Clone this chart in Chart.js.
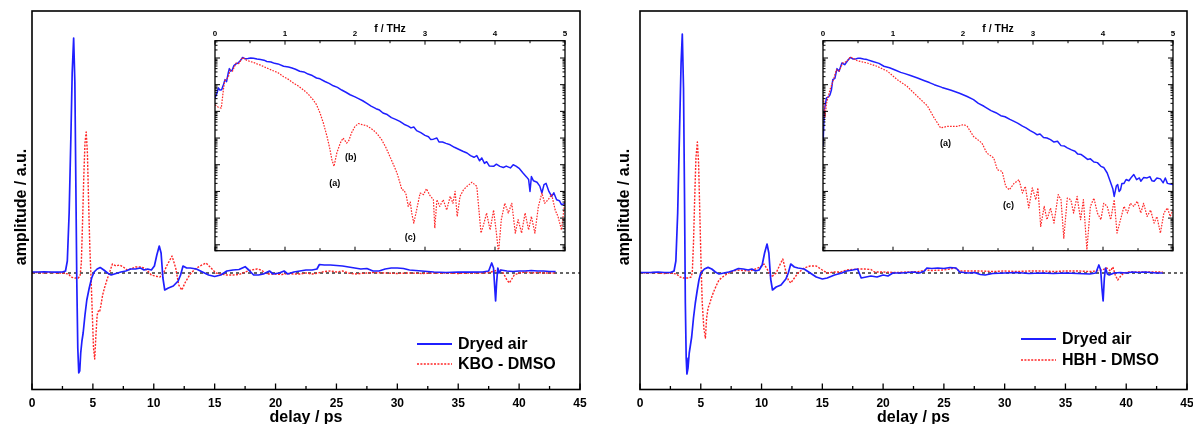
<!DOCTYPE html>
<html><head><meta charset="utf-8">
<script src="https://cdn.jsdelivr.net/npm/chart.js@4.4.1/dist/chart.umd.min.js"></script>
<style>
html,body{margin:0;padding:0;background:#fff;overflow:hidden;width:1193px;height:424px;}
#wrap{position:relative;width:1193px;height:424px;overflow:hidden;background:#fff;}
canvas{position:absolute;}
.leg{position:absolute;display:flex;align-items:center;height:20px;font:bold 16px 'Liberation Sans',Arial,Helvetica,sans-serif;color:#000;white-space:nowrap;}
.leg svg{margin-right:6px;}
</style></head><body>
<div id="wrap">
<canvas id="mainL" width="600" height="440" style="left:0;top:0"></canvas>
<canvas id="mainR" width="613" height="440" style="left:600px;top:0"></canvas>
<canvas id="insL" width="370" height="250" style="left:205px;top:10px"></canvas>
<canvas id="insR" width="370" height="250" style="left:813px;top:10px"></canvas>
</div>
<script>
// ---------- time-domain data (delay in ps, amplitude in a.u.) ----------
const LB_T = [0,0.5,1,1.5,2,2.5,2.75,2.9,3.05,3.2,3.3,3.42,3.52,3.6,3.68,3.76,3.84,3.92,4.0,4.1,4.2,4.35,4.5,4.7,4.9,5.1,5.35,5.6,5.9,6.2,6.5,6.9,7.3,7.7,8.1,8.5,8.9,9.2,9.5,9.8,10.05,10.25,10.45,10.6,10.75,10.9,11.2,11.6,12.0,12.2,12.4,12.7,13.0,13.5,14.0,14.5,15.0,15.5,16.0,16.5,17.0,17.5,17.8,18.2,18.6,19.0,19.5,19.8,20.3,20.7,21.0,21.5,22.0,22.5,23.0,23.4,23.6,24.0,24.5,25.0,25.5,26.0,26.5,27.0,27.5,28.0,28.5,29.0,29.5,30.0,30.5,31.0,31.5,32.0,33.0,34.0,35.0,36.0,37.0,37.5,37.75,37.9,38.0,38.07,38.15,38.25,38.35,38.5,39.0,39.5,40.0,40.5,41.0,41.5,42.0,42.5,43.0];
const LB_A = [0.01,0.01,0.012,0.01,0.008,0.01,0.02,0.12,0.6,1.4,2.0,2.35,1.9,0.9,-0.1,-0.75,-1.0,-0.98,-0.8,-0.68,-0.6,-0.42,-0.27,-0.15,-0.05,0.01,0.04,0.055,0.03,0.0,-0.02,-0.005,0.01,0.02,0.04,0.04,0.05,0.03,0.04,0.03,0.07,0.18,0.27,0.2,-0.05,-0.17,-0.15,-0.13,-0.08,-0.02,0.07,0.05,0.05,0.04,0.01,-0.02,-0.035,-0.02,0.02,0.03,0.035,0.063,0.03,-0.02,-0.02,-0.01,0.02,-0.01,0.0,0.02,-0.01,0.01,0.02,0.03,0.03,0.04,0.085,0.08,0.08,0.075,0.07,0.06,0.05,0.04,0.045,0.02,0.02,0.04,0.05,0.05,0.045,0.03,0.025,0.02,0.01,0.005,0.01,0.008,0.01,0.02,0.1,0.05,-0.15,-0.28,-0.1,0.05,0.0,0.03,0.02,0.015,0.02,0.02,0.025,0.02,0.02,0.015,0.015];

const LR_T = [0,0.5,1,1.5,2,2.5,3.0,3.2,3.5,3.8,3.95,4.05,4.15,4.25,4.35,4.45,4.55,4.65,4.75,4.85,4.95,5.05,5.15,5.25,5.35,5.45,5.55,5.65,5.8,5.95,6.15,6.35,6.6,6.9,7.2,7.5,7.8,8.1,8.5,8.9,9.2,9.5,9.8,10.1,10.5,10.8,11.1,11.5,11.8,12.05,12.3,12.6,13.0,13.4,13.8,14.3,14.7,15.1,15.5,16.0,16.5,17.0,17.5,18.0,18.5,18.8,19.3,19.8,20.5,21,21.5,22,22.5,23,23.5,24,24.5,25,25.5,26,26.5,27,27.5,28,29,30,31,32,33,34,35,36,37,37.5,38.0,38.4,38.7,39.0,39.2,39.4,39.6,40.0,40.5,41.0,41.5,42.0,42.5,43.0];
const LR_A = [0.003,0.005,0.0,0.005,0.0,0.0,-0.01,-0.04,-0.05,-0.05,-0.03,0.1,0.5,0.95,1.3,1.41,1.2,0.7,0.25,-0.05,-0.4,-0.75,-0.86,-0.62,-0.42,-0.38,-0.39,-0.33,-0.22,-0.15,-0.07,0.0,0.09,0.07,0.08,0.06,0.03,0.04,0.06,0.06,0.05,0.02,-0.02,-0.03,-0.04,0.0,0.08,0.17,0.05,-0.12,-0.17,-0.09,-0.01,0.04,0.07,0.1,0.05,0.0,-0.01,-0.02,-0.02,-0.015,0.01,0.03,0.04,0.03,-0.01,-0.01,-0.015,-0.005,-0.01,-0.01,0.0,-0.01,0.0,0.015,0.02,0.01,0.02,0.0,-0.01,-0.005,0.0,0.005,0.0,-0.005,0.0,-0.005,0.0,0.0,-0.005,0.0,0.0,0.005,0.02,0.04,0.0,-0.07,-0.1,-0.06,-0.02,0.0,0.01,0.0,0.005,0.0,0.0,0.0];

const RB_T = [0,0.5,1,1.5,2,2.5,2.8,2.95,3.1,3.25,3.38,3.48,3.58,3.66,3.73,3.8,3.86,3.95,4.05,4.15,4.25,4.4,4.55,4.7,4.85,5.0,5.3,5.6,5.9,6.2,6.5,6.9,7.3,7.7,8.1,8.5,8.9,9.2,9.5,9.8,10.05,10.25,10.45,10.6,10.75,10.9,11.2,11.6,12.0,12.2,12.4,12.7,13.0,13.5,14.0,14.5,15.0,15.4,16.0,16.6,17.0,17.5,17.9,18.2,18.6,19.0,19.5,20.0,20.4,20.8,21.5,22.0,22.5,23.0,23.4,23.6,24,24.5,25,25.5,26,26.3,27,27.5,28.0,28.4,29,30,31,32,33,34,35,36,37,37.5,37.75,37.9,38.0,38.1,38.2,38.3,38.45,38.6,39,39.5,40,40.5,41,41.5,42,42.5,43];
const RB_A = [0.005,0.005,0.006,0.01,0.005,0.005,0.02,0.12,0.6,1.4,2.1,2.39,1.85,0.8,-0.3,-0.85,-1.01,-0.95,-0.8,-0.72,-0.64,-0.45,-0.3,-0.18,-0.07,0.0,0.04,0.056,0.04,0.01,-0.01,0.0,0.01,0.025,0.045,0.04,0.03,0.04,0.02,0.03,0.08,0.2,0.29,0.2,-0.06,-0.17,-0.14,-0.12,-0.06,0.0,0.09,0.06,0.05,0.04,0.0,-0.04,-0.06,-0.05,-0.02,0.0,0.02,0.03,0.04,-0.05,-0.04,-0.03,-0.04,-0.02,-0.03,0.0,0.0,0.005,0.01,0.0,0.02,0.05,0.045,0.05,0.045,0.055,0.05,0.01,0.0,0.005,-0.015,-0.02,-0.005,0.0,0.005,-0.005,0.0,-0.005,0.0,-0.005,-0.01,0.0,0.08,0.03,-0.15,-0.28,-0.05,0.05,-0.01,-0.02,0.0,0.005,0.0,0.01,0.005,0.01,0.005,0.0,0.0];

const RR_T = [0,0.5,1,1.5,2,2.5,3.0,3.3,3.6,4.0,4.2,4.3,4.4,4.5,4.6,4.72,4.82,4.92,5.02,5.12,5.25,5.38,5.48,5.6,5.75,5.9,6.05,6.3,6.5,6.9,7.3,7.7,8.0,8.5,9.0,9.5,9.9,10.2,10.5,10.8,11.2,11.5,11.75,11.95,12.2,12.4,12.7,13.0,13.5,14.0,14.5,15.0,15.4,16.0,16.5,17.0,17.5,18.0,18.5,19.0,19.3,20,21,22,23,23.5,24,25,25.5,25.9,26.3,27,28,29,30,31,32,33,34,35,36,37,37.5,38.0,38.4,38.7,38.9,39.1,39.3,39.55,39.8,40.2,41,42,43];
const RR_A = [0.005,0.0,0.005,0.0,-0.005,0.0,-0.01,-0.04,-0.05,-0.05,-0.04,0.0,0.3,0.75,1.15,1.31,1.1,0.6,0.1,-0.3,-0.55,-0.65,-0.45,-0.35,-0.3,-0.24,-0.19,-0.12,-0.07,-0.03,0.0,0.02,0.03,0.025,0.02,0.04,0.06,0.09,0.03,-0.04,0.0,0.08,0.14,0.04,-0.07,-0.1,-0.05,0.0,0.05,0.07,0.07,0.03,0.0,0.01,0.01,0.03,0.035,0.04,0.04,0.035,0.01,0.01,0.005,0.01,0.015,0.03,0.025,0.03,0.04,0.05,0.02,0.02,0.02,0.015,0.02,0.015,0.02,0.02,0.015,0.02,0.02,0.015,0.02,0.03,0.05,0.02,0.06,-0.02,-0.07,-0.03,0.0,0.01,0.01,0.01,0.01];

const ZERO_T = [0, 45];
const ZERO_A = [0, 0];

// ---------- spectra (f in THz, normalized amplitude) ----------
const LI_BLUE_F = [0,0.03,0.048,0.07,0.095,0.12,0.143,0.165,0.19,0.205,0.225,0.245,0.27,0.3,0.33,0.36,0.395,0.43,0.47,0.51,0.55,0.6,0.65,0.7,0.74,0.8,0.85,0.9,0.98,1.05,1.1,1.15,1.21,1.27,1.33,1.39,1.45,1.5,1.57,1.63,1.69,1.75,1.81,1.87,1.93,2.0,2.05,2.11,2.17,2.23,2.3,2.35,2.4,2.46,2.52,2.58,2.64,2.7,2.76,2.8,2.84,2.88,2.94,3.0,3.05,3.08,3.12,3.17,3.2,3.25,3.3,3.36,3.42,3.48,3.54,3.6,3.65,3.7,3.74,3.78,3.81,3.85,3.88,3.92,3.98,4.02,4.07,4.12,4.16,4.22,4.26,4.3,4.35,4.4,4.45,4.48,4.5,4.52,4.55,4.6,4.64,4.67,4.7,4.73,4.77,4.81,4.84,4.88,4.92,4.95,5.0];
const LI_BLUE_A = [3.2e-2,5.0e-2,7.6e-2,6.3e-2,6.5e-2,1.0e-1,1.55e-1,1.3e-1,2.8e-1,4.0e-1,3.2e-1,3.5e-1,5.2e-1,6.0e-1,6.5e-1,7.9e-1,1.05,0.93,0.95,1.0,0.98,0.91,0.87,0.83,0.74,0.71,0.63,0.60,0.49,0.46,0.42,0.38,0.32,0.30,0.25,0.22,0.178,0.166,0.132,0.112,9.1e-2,7.9e-2,6.3e-2,5.2e-2,4.2e-2,3.5e-2,3.0e-2,2.5e-2,2.0e-2,1.58e-2,1.26e-2,1.12e-2,8.7e-3,7.6e-3,5.8e-3,5.0e-3,4.2e-3,3.3e-3,2.8e-3,2.4e-3,2.6e-3,1.9e-3,1.6e-3,1.26e-3,1.12e-3,8.9e-4,9.1e-4,1.0e-3,7.1e-4,7.1e-4,6.3e-4,5.6e-4,4.5e-4,3.8e-4,3.2e-4,2.75e-4,2.2e-4,1.9e-4,2.2e-4,1.4e-4,1.8e-4,1.12e-4,1.3e-4,8.9e-5,8.7e-5,1.05e-4,8.7e-5,7.9e-5,8.9e-5,7.6e-5,1.0e-4,8.9e-5,7.1e-5,4.9e-5,3.5e-5,2.8e-5,1.0e-5,3.6e-5,2.5e-5,2.2e-5,1.58e-5,8.7e-6,1.8e-5,2.0e-5,1.0e-5,6.5e-6,8.9e-6,4.9e-6,4.5e-6,3.2e-6,3.5e-6];

const LI_RED_F = [0,0.05,0.09,0.12,0.14,0.19,0.215,0.25,0.3,0.34,0.395,0.45,0.5,0.55,0.6,0.65,0.74,0.8,0.9,0.98,1.05,1.12,1.19,1.26,1.33,1.4,1.45,1.5,1.55,1.6,1.64,1.67,1.7,1.74,1.79,1.83,1.88,1.91,1.95,2.0,2.05,2.1,2.17,2.26,2.32,2.38,2.44,2.5,2.55,2.6,2.64,2.67,2.7,2.73,2.76,2.79,2.81,2.84,2.88,2.93,2.98,3.02,3.07,3.12,3.14,3.17,3.21,3.26,3.31,3.36,3.4,3.43,3.46,3.5,3.55,3.6,3.67,3.74,3.8,3.83,3.88,3.93,3.98,4.02,4.05,4.09,4.14,4.19,4.24,4.29,4.33,4.38,4.43,4.48,4.52,4.57,4.62,4.67,4.71,4.76,4.81,4.86,4.9,4.95,5.0];
const LI_RED_A = [1.78e-2,1.41e-2,1.32e-2,6.5e-2,1.41e-1,1.9e-1,3.5e-1,3.2e-1,6.5e-1,6.2e-1,1.05,0.83,0.74,0.68,0.60,0.54,0.42,0.36,0.28,0.20,0.158,0.115,8.9e-2,6.5e-2,4.5e-2,2.75e-2,1.78e-2,8.7e-3,3.5e-3,1.15e-3,4.0e-4,1.55e-4,8.7e-5,2.75e-4,6.5e-4,1.0e-3,6.5e-4,7.9e-4,1.55e-3,2.75e-3,3.5e-3,3.2e-3,2.9e-3,2.0e-3,1.41e-3,8.7e-4,4.5e-4,2.0e-4,1.0e-4,4.9e-5,2.2e-5,1.15e-5,1.12e-5,7.6e-6,2.75e-6,4.0e-6,1.55e-6,6.5e-7,2.0e-6,8.7e-6,7.6e-6,1.26e-5,7.1e-6,4.9e-6,4.2e-7,4.9e-6,2.75e-6,4.9e-6,2.0e-6,6.5e-6,3.6e-6,1.0e-5,1.15e-6,6.5e-6,1.15e-5,1.55e-5,2.2e-5,1.55e-5,2.75e-7,4.9e-7,1.55e-6,3.6e-7,2.0e-6,2.75e-7,5.0e-8,8.7e-7,3.6e-6,1.55e-6,3.6e-6,2.75e-7,8.7e-7,2.75e-7,1.55e-6,3.6e-7,1.15e-6,2.75e-7,2.75e-6,8.7e-6,3.6e-6,4.9e-6,7.6e-6,2.0e-6,1.15e-6,3.6e-7,4.9e-6];

const RI_BLUE_F = [0,0.02,0.05,0.08,0.1,0.12,0.14,0.17,0.2,0.23,0.27,0.31,0.35,0.39,0.43,0.46,0.5,0.53,0.58,0.63,0.7,0.8,0.87,0.95,1.03,1.11,1.17,1.25,1.35,1.45,1.52,1.59,1.7,1.83,1.95,2.06,2.15,2.22,2.3,2.4,2.47,2.54,2.6,2.67,2.73,2.78,2.85,2.9,2.96,3.02,3.06,3.1,3.15,3.2,3.25,3.3,3.35,3.4,3.45,3.49,3.55,3.6,3.64,3.69,3.73,3.78,3.82,3.87,3.92,3.97,4.01,4.06,4.1,4.14,4.16,4.19,4.21,4.23,4.25,4.27,4.3,4.33,4.37,4.41,4.44,4.48,4.52,4.54,4.58,4.63,4.67,4.7,4.73,4.77,4.82,4.86,4.89,4.92,4.96,5.0];
const RI_BLUE_A = [4.9e-4,1.15e-2,3.2e-2,3.5e-2,4.2e-2,6.3e-2,1.55e-1,1.74e-1,4.0e-1,3.2e-1,6.5e-1,5.6e-1,7.9e-1,1.05,0.91,0.91,0.98,0.98,0.91,0.87,0.76,0.63,0.49,0.43,0.355,0.29,0.26,0.22,0.178,0.141,0.12,0.1,7.9e-2,6.2e-2,4.8e-2,3.6e-2,2.75e-2,2.0e-2,1.55e-2,1.07e-2,8.9e-3,6.9e-3,6.3e-3,5.0e-3,4.2e-3,3.6e-3,2.8e-3,2.4e-3,1.9e-3,1.55e-3,1.32e-3,1.41e-3,1.05e-3,1.0e-3,8.7e-4,7.1e-4,7.6e-4,5.2e-4,5.0e-4,4.3e-4,3.6e-4,3.2e-4,2.5e-4,2.4e-4,2.0e-4,1.58e-4,1.66e-4,1.26e-4,1.2e-4,8.7e-5,7.9e-5,4.9e-5,2.5e-5,1.26e-5,6.5e-6,1.58e-5,1.8e-5,1.0e-5,1.15e-5,2.0e-5,2.0e-5,2.8e-5,2.5e-5,3.5e-5,4.3e-5,2.75e-5,3.2e-5,2.4e-5,3.3e-5,3.2e-5,3.6e-5,2.5e-5,2.4e-5,3.2e-5,2.95e-5,2.1e-5,3.2e-5,2.0e-5,1.9e-5,1.8e-5];

const RI_RED_F = [0,0.01,0.03,0.05,0.1,0.15,0.19,0.23,0.28,0.34,0.39,0.49,0.63,0.77,0.92,1.06,1.2,1.35,1.49,1.59,1.68,1.78,1.92,2.01,2.06,2.15,2.27,2.34,2.44,2.49,2.56,2.61,2.66,2.73,2.8,2.85,2.89,2.94,2.99,3.04,3.07,3.11,3.16,3.2,3.25,3.3,3.36,3.4,3.44,3.49,3.54,3.58,3.63,3.68,3.72,3.77,3.82,3.87,3.92,3.97,4.01,4.06,4.11,4.16,4.2,4.25,4.3,4.35,4.39,4.44,4.49,4.54,4.58,4.63,4.68,4.73,4.77,4.82,4.87,4.92,4.96,5.0];
const RI_RED_A = [4.2e-2,2.5e-2,6.5e-3,2.0e-2,6.5e-2,1.55e-1,3.6e-1,3.2e-1,6.5e-1,7.4e-1,1.1,0.79,0.65,0.49,0.32,0.155,8.7e-2,3.6e-2,1.62e-2,5.6e-3,2.4e-3,2.75e-3,2.75e-3,3.2e-3,2.75e-3,1.15e-3,6.5e-4,2.75e-4,1.78e-4,6.5e-5,5.6e-5,1.55e-5,1.15e-5,2.0e-5,2.75e-5,8.7e-6,1.55e-5,2.4e-6,1.35e-5,4.9e-6,1.35e-5,4.9e-7,2.75e-6,8.7e-7,2.4e-6,6.5e-7,7.6e-6,4.9e-6,1.78e-7,5.6e-6,4.9e-6,1.55e-6,6.5e-6,8.7e-7,4.9e-6,6.5e-8,2.75e-6,5.6e-6,1.55e-6,8.7e-7,3.6e-6,2.75e-6,8.7e-7,4.9e-6,2.75e-7,8.7e-7,2.75e-6,1.55e-6,3.6e-6,2.75e-6,4.3e-6,1.55e-6,3.6e-6,1.15e-6,2.0e-6,6.5e-7,1.15e-6,2.75e-7,1.55e-6,2.4e-6,1.15e-6,2.0e-6];

// ---------- labels / axis settings ----------
const SERIES_L = ['Dryed air', 'KBO - DMSO'];
const SERIES_R = ['Dryed air', 'HBH - DMSO'];
const X_TITLE = 'delay / ps';
const Y_TITLE = 'amplitude / a.u.';
const F_TITLE = 'f / THz';
const NOTES_L = [{text:'(a)', x:1.71, y:2.0e-5}, {text:'(b)', x:1.94, y:1.86e-4}, {text:'(c)', x:2.79, y:1.95e-7}];
const NOTES_R = [{text:'(a)', x:1.75, y:6.0e-4}, {text:'(c)', x:2.65, y:2.95e-6}];
const T_MIN = 0, T_MAX = 45, T_STEP = 5;
const AMP_MIN = -1.165, AMP_MAX = 2.62;
const F_MIN = 0, F_MAX = 5, F_STEP = 1;
const SPEC_MIN = 6.0e-8, SPEC_MAX = 4.45;

const BLUE = '#1f1fff';
const RED = '#ff2626';
const FONT = "'Liberation Sans', Arial, Helvetica, sans-serif";
Chart.defaults.font.family = FONT;
Chart.defaults.color = '#000';

function pts(xs, ys) {
  const n = Math.min(xs.length, ys.length), o = [];
  for (let i = 0; i < n; i++) o.push({x: xs[i], y: ys[i]});
  return o;
}

function framePlugin(cfg) {
  return {
    id: 'frame',
    beforeDatasetsDraw(chart) {
      if (!cfg.fill) return;
      const a = chart.chartArea, c = chart.ctx;
      c.save(); c.fillStyle = '#fff';
      c.fillRect(a.left, a.top, a.right - a.left, a.bottom - a.top);
      c.restore();
    },
    afterDatasetsDraw(chart) {
      const c = chart.ctx, a = chart.chartArea, x = chart.scales.x, y = chart.scales.y;
      c.save();
      c.strokeStyle = '#000';
      c.lineWidth = cfg.tickWidth;
      c.beginPath();
      for (const [v, len] of cfg.xTicks) {
        const p = x.getPixelForValue(v);
        if (cfg.xBottom) { c.moveTo(p, a.bottom); c.lineTo(p, a.bottom - len); }
        if (cfg.xTop) { c.moveTo(p, a.top); c.lineTo(p, a.top + len); }
      }
      for (const [v, len] of (cfg.yTicks || [])) {
        const p = y.getPixelForValue(v);
        c.moveTo(a.left, p); c.lineTo(a.left + len, p);
        c.moveTo(a.right, p); c.lineTo(a.right - len, p);
      }
      c.stroke();
      c.lineWidth = cfg.frameWidth;
      c.strokeRect(a.left, a.top, a.right - a.left, a.bottom - a.top);
      if (cfg.notes) {
        c.fillStyle = '#000'; c.font = cfg.noteFont;
        c.textAlign = 'center'; c.textBaseline = 'middle';
        for (const n of cfg.notes) c.fillText(n.text, x.getPixelForValue(n.x), y.getPixelForValue(n.y));
      }
      c.restore();
    }
  };
}

// tick marks (inside the frame)
const mainXTicks = [];
for (let v = T_MIN; v <= T_MAX + 1e-9; v += T_STEP / 2) mainXTicks.push([v, (Math.abs(v / T_STEP - Math.round(v / T_STEP)) < 1e-6) ? 6 : 3.5]);
const insXTicks = [];
for (let v = F_MIN; v <= F_MAX + 1e-9; v += F_STEP / 2) insXTicks.push([v, (Math.abs(v - Math.round(v)) < 1e-6) ? 4 : 2.5]);
const insYTicks = [];
for (let e = -8; e <= 0; e++) for (let m = 1; m <= 9; m++) {
  const v = m * Math.pow(10, e);
  if (v >= SPEC_MIN && v <= SPEC_MAX) insYTicks.push([v, m === 1 ? 5 : 2.5]);
}

function makeMain(id, bt, ba, rt, ra, names, padRight, yAxisW, yTitlePad) {
  return new Chart(document.getElementById(id), {
    type: 'line',
    data: {datasets: [
      {label: names[0], data: pts(bt, ba), borderColor: BLUE, borderWidth: 1.7, order: 1},
      {label: names[1], data: pts(rt, ra), borderColor: RED, borderWidth: 1.4, borderDash: [2, 1.4], order: 2},
      {label: 'zero', data: pts(ZERO_T, ZERO_A), borderColor: '#000', borderWidth: 1.2, borderDash: [3, 3], order: 3}
    ]},
    options: {
      responsive: false, animation: false, events: [], parsing: false,
      elements: {point: {radius: 0}, line: {tension: 0, borderJoinStyle: 'round', fill: false}},
      layout: {padding: {left: 0, right: padRight, top: 11, bottom: 0}},
      plugins: {legend: {display: false}, tooltip: {enabled: false}},
      scales: {
        x: {type: 'linear', position: 'bottom', min: T_MIN, max: T_MAX,
            grid: {display: false, drawTicks: false}, border: {display: false},
            ticks: {stepSize: T_STEP, autoSkip: false, maxRotation: 0, padding: 7, font: {size: 12, weight: 'bold'}, color: '#000'},
            title: {display: true, text: X_TITLE, font: {size: 16, weight: 'bold'}, color: '#000', padding: {top: 0, bottom: 12.4}},
            afterFit(s) { s.height = 50.5; }},
        y: {type: 'linear', min: AMP_MIN, max: AMP_MAX,
            grid: {display: false, drawTicks: false}, border: {display: false},
            ticks: {display: false},
            title: {display: true, text: Y_TITLE + '   ', font: {size: 16, weight: 'bold'}, color: '#000', padding: {top: yTitlePad, bottom: 0}},
            afterFit(s) { s.width = yAxisW; }}
      }
    },
    plugins: [framePlugin({xTicks: mainXTicks, xBottom: true, xTop: false, tickWidth: 1.3, frameWidth: 1.6})]
  });
}

function makeInset(id, bf, ba, rf, ra, notes) {
  return new Chart(document.getElementById(id), {
    type: 'line',
    data: {datasets: [
      {data: pts(bf, ba), borderColor: BLUE, borderWidth: 1.5, order: 2},
      {data: pts(rf, ra), borderColor: RED, borderWidth: 1.2, borderDash: [1.6, 1.3], order: 1}
    ]},
    options: {
      responsive: false, animation: false, events: [], parsing: false,
      elements: {point: {radius: 0}, line: {tension: 0, borderJoinStyle: 'round', fill: false}},
      layout: {padding: {left: 10, right: 10, top: 0, bottom: 9.3}},
      plugins: {legend: {display: false}, tooltip: {enabled: false}},
      scales: {
        x: {type: 'linear', position: 'top', min: F_MIN, max: F_MAX,
            grid: {display: false, drawTicks: false}, border: {display: false},
            ticks: {stepSize: F_STEP, autoSkip: false, maxRotation: 0, padding: 2, font: {size: 8, weight: 'bold'}, color: '#000'},
            title: {display: true, text: F_TITLE, font: {size: 10.5, weight: 'bold'}, color: '#000', padding: {top: 13, bottom: 0}},
            afterFit(s) { s.height = 30.7; }},
        y: {type: 'logarithmic', display: false, min: SPEC_MIN, max: SPEC_MAX}
      }
    },
    plugins: [framePlugin({xTicks: insXTicks, xBottom: true, xTop: true, yTicks: insYTicks,
      tickWidth: 1, frameWidth: 1.3, fill: true, notes: notes, noteFont: "bold 9px " + FONT})]
  });
}

function legend(names, left, top1, top2) {
  const wrap = document.getElementById('wrap');
  const rows = [
    {name: names[0], top: top1, svg: '<svg width="35" height="4"><line x1="0" y1="2" x2="35" y2="2" stroke="' + BLUE + '" stroke-width="2"/></svg>'},
    {name: names[1], top: top2, svg: '<svg width="35" height="4"><line x1="0" y1="2" x2="35" y2="2" stroke="' + RED + '" stroke-width="1.6" stroke-dasharray="2 1.4"/></svg>'}
  ];
  for (const r of rows) {
    const d = document.createElement('div');
    d.className = 'leg';
    d.style.left = left + 'px';
    d.style.top = (r.top - 10) + 'px';
    d.innerHTML = r.svg;
    const s = document.createElement('span');
    s.textContent = r.name;
    d.appendChild(s);
    wrap.appendChild(d);
  }
}

makeMain('mainL', LB_T, LB_A, LR_T, LR_A, SERIES_L, 20, 32, 11.9);
makeMain('mainR', RB_T, RB_A, RR_T, RR_A, SERIES_R, 26, 40, 15.4);
makeInset('insL', LI_BLUE_F, LI_BLUE_A, LI_RED_F, LI_RED_A, NOTES_L);
makeInset('insR', RI_BLUE_F, RI_BLUE_A, RI_RED_F, RI_RED_A, NOTES_R);
legend(SERIES_L, 417, 344, 364);
legend(SERIES_R, 1021, 339, 360);
</script>
</body></html>
